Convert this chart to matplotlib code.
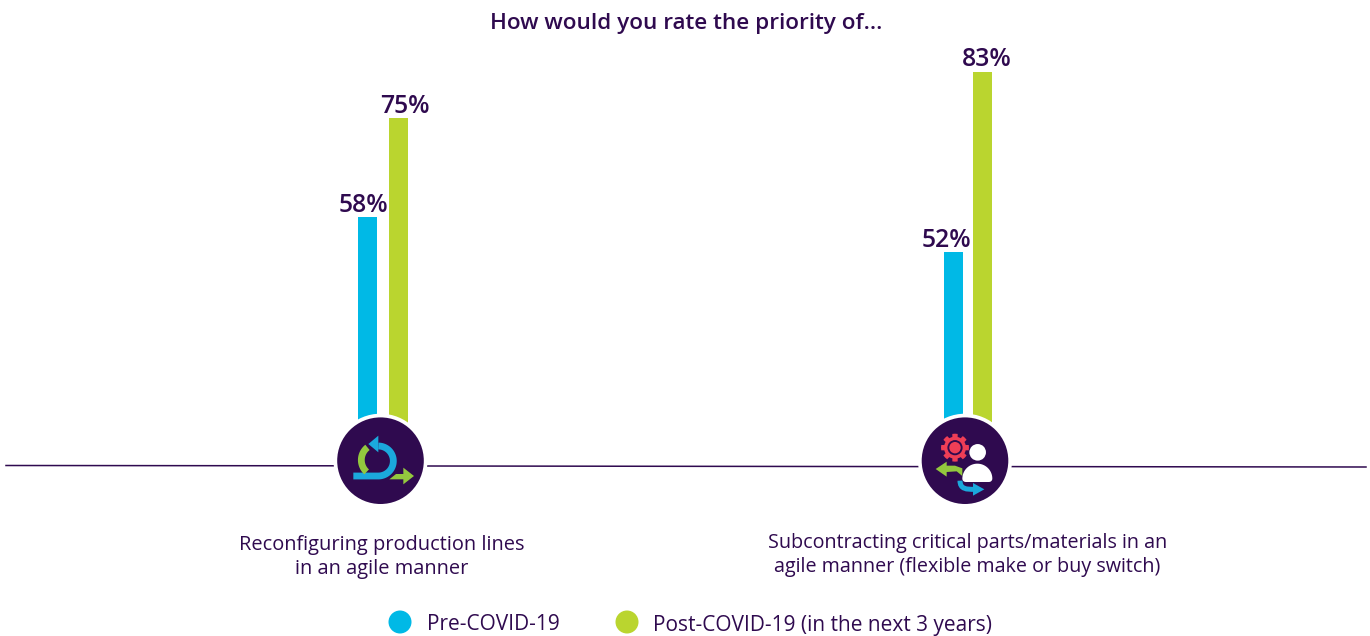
import numpy as np
import matplotlib
matplotlib.use('Agg')
import matplotlib.pyplot as plt
import matplotlib.patches as mpatches
from matplotlib.path import Path

plt.rcParams['font.family'] = ['Open Sans', 'DejaVu Sans']

PURPLE = '#2f0a4f'
BLUE = '#00b9e6'
GREEN = '#bad52f'
RED = '#ef3e56'
ARROW_BLUE = '#1ba8dc'
ARROW_GREEN = '#93c83e'

# Survey values
TITLE = 'How would you rate the priority of...'
categories = ['Reconfiguring production lines\nin an agile manner',
              'Subcontracting critical parts/materials in an\nagile manner (flexible make or buy switch)']
series_names = ['Pre-COVID-19', 'Post-COVID-19 (in the next 3 years)']
pre_covid = [58, 52]
post_covid = [75, 83]

W, H = 1370, 636
PX_PER_PCT = 5.82
ZERO_Y = 554.6
BASE_PCT = 15.0

fig = plt.figure(figsize=(W / 100, H / 100), dpi=100)

# Bars live on a percent axis, everything else on a pixel axis
ax = fig.add_axes([0, 0, 1, 1])
ax.set_xlim(0, W)
ax.set_ylim((ZERO_Y - H) / PX_PER_PCT, ZERO_Y / PX_PER_PCT)
ax.axis('off')

deco = fig.add_axes([0, 0, 1, 1])
deco.set_xlim(0, W)
deco.set_ylim(H, 0)
deco.axis('off')
deco.patch.set_alpha(0)

pre_x = [367.5, 953.5]
post_x = [398.5, 982.5]
pre_label_x = [363, 946]
post_label_x = [405, 987]
BAR_W = 19

for i in range(2):
    ax.bar(pre_x[i], pre_covid[i] - BASE_PCT, BAR_W, bottom=BASE_PCT, color=BLUE)
    ax.bar(post_x[i], post_covid[i] - BASE_PCT, BAR_W, bottom=BASE_PCT, color=GREEN)
    ax.text(pre_label_x[i], pre_covid[i] - 0.1, f'{pre_covid[i]}%', ha='center', va='bottom',
            fontsize=17.8, fontweight='semibold', color=PURPLE)
    ax.text(post_label_x[i], post_covid[i] - 0.1, f'{post_covid[i]}%', ha='center', va='bottom',
            fontsize=17.8, fontweight='semibold', color=PURPLE)


def arc(cx, cy, r, a0, a1, n=40):
    t = np.radians(np.linspace(a0, a1, n))
    return np.c_[cx + r * np.cos(t), cy + r * np.sin(t)]


def to_px(pts, ox, oy):
    # icon shapes are laid out on a 3x grid
    pts = np.asarray(pts, dtype=float)
    return np.c_[ox + pts[:, 0] / 3, oy + pts[:, 1] / 3]


def stroke(pts, ox, oy, color, lw):
    p = to_px(pts, ox, oy)
    deco.plot(p[:, 0], p[:, 1], color=color, lw=lw, solid_capstyle='butt',
              solid_joinstyle='round', zorder=6)


def poly(pts, ox, oy, color, zorder=6):
    deco.add_patch(mpatches.Polygon(to_px(pts, ox, oy), closed=True, fc=color, ec='none', zorder=zorder))


# Horizontal rule either side of the icons
deco.plot([6, 335], [465.5, 465.8], color=PURPLE, lw=1.1, zorder=2)
deco.plot([426, 920], [466, 466.6], color=PURPLE, lw=1.1, zorder=2)
deco.plot([1011, 1366], [466.6, 467], color=PURPLE, lw=1.1, zorder=2)

# Icon discs
for cx in [380.5, 965]:
    deco.add_patch(mpatches.Circle((cx, 460.7), 47, fc='white', ec='none', zorder=4))
    deco.add_patch(mpatches.Circle((cx, 460.7), 43.3, fc=PURPLE, ec='none', zorder=5))

# Agile loop icon
ox, oy = 320, 400
loop = np.vstack([[[100, 228]], arc(175, 183, 45, 90, -90)])
stroke(loop, ox, oy, ARROW_BLUE, 4.9)
poly([[175, 107], [145, 132], [175, 157]], ox, oy, ARROW_BLUE)
stroke(arc(172, 180, 48, 232, 132), ox, oy, ARROW_GREEN, 4.9)
poly([[208, 238], [228, 222], [250, 222], [250, 203], [282, 228], [250, 253], [250, 238]], ox, oy, ARROW_GREEN)

# Make-or-buy icon
ox, oy = 905, 400
gear = []
for a in np.arange(0, 360, 45):
    gear += [arc(150, 143, 33, a - 22.5, a - 14, 3), arc(150, 143, 42, a - 11, a + 11, 3),
             arc(150, 143, 33, a + 14, a + 22.5, 3)]
poly(np.vstack(gear), ox, oy, RED)
gx, gy = to_px([[150, 143]], ox, oy)[0]
deco.add_patch(mpatches.Circle((gx, gy), 7.6, fc=PURPLE, ec='none', zorder=7))
deco.add_patch(mpatches.Circle((gx, gy), 5.7, fc=RED, ec='none', zorder=8))

hx, hy = to_px([[218, 157]], ox, oy)[0]
deco.add_patch(mpatches.Circle((hx, hy), 8.3, fc='white', ec='none', zorder=7))
body = np.vstack([arc(217, 236, 45, 180, 360), arc(252, 236, 10, 0, 90, 6), arc(182, 236, 10, 90, 180, 6)])
poly(body, ox, oy, 'white', zorder=7)

poly([[92, 207], [125, 185], [125, 197], [150, 197], [172, 205], [172, 228], [155, 214], [125, 216], [125, 230]],
     ox, oy, ARROW_GREEN)
curve = Path(to_px([[165, 242], [165, 268], [185, 268], [208, 268]], ox, oy),
             [Path.MOVETO, Path.CURVE4, Path.CURVE4, Path.CURVE4])
deco.add_patch(mpatches.PathPatch(curve, fc='none', ec=ARROW_BLUE, lw=3.6, capstyle='butt', zorder=6))
poly([[204, 249], [238, 268], [204, 287]], ox, oy, ARROW_BLUE)

# Title and category captions
deco.text(686, 24, TITLE, ha='center', va='center', fontsize=16.2, fontweight='semibold', color=PURPLE)
deco.text(382, 557, categories[0], ha='center', va='center', fontsize=14.4, color=PURPLE,
          linespacing=1.3)
deco.text(967.5, 555, categories[1], ha='center', va='center', fontsize=14.2, color=PURPLE,
          linespacing=1.3)

# Legend
for lx, tx, name, color in [(400, 427, series_names[0], BLUE), (627, 653, series_names[1], GREEN)]:
    deco.add_patch(mpatches.Circle((lx, 622), 11.5, fc=color, ec='none'))
    deco.text(tx, 625, name, ha='left', va='center', fontsize=15, color=PURPLE)

fig.savefig('out.png', dpi=100)
